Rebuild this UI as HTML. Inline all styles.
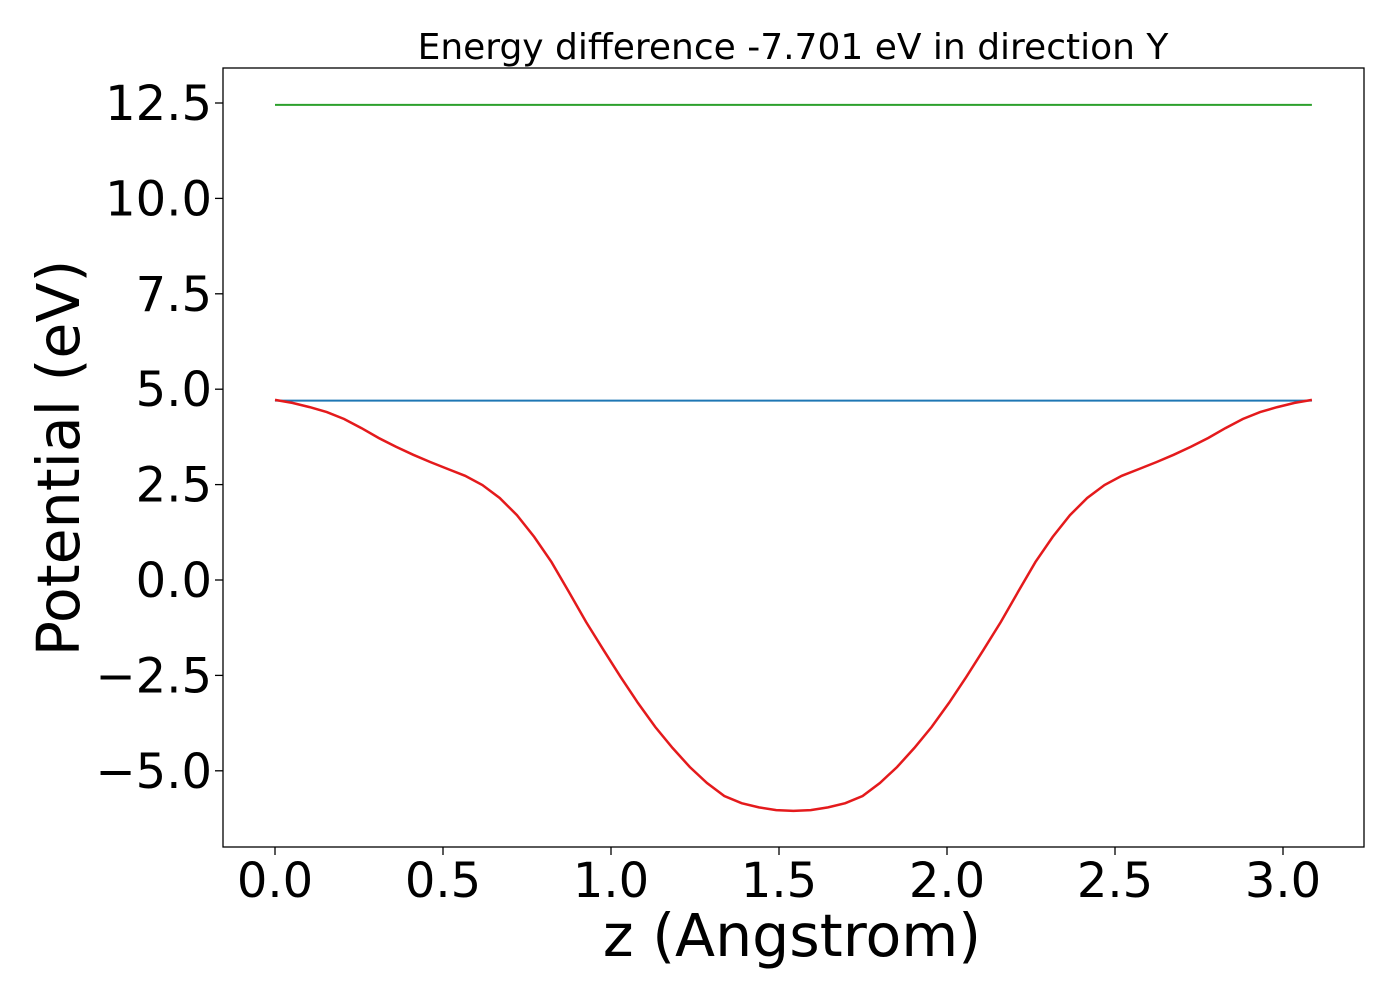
<!DOCTYPE html>
<html><head><meta charset="utf-8"><style>
body{margin:0;background:#fff;}
svg{display:block;font-family:"DejaVu Sans","Liberation Sans",sans-serif;}
</style></head><body>
<svg id="chart" width="1400" height="1000">
</svg>
<script>
const xTicks=[0.0,0.5,1.0,1.5,2.0,2.5,3.0];
const xTickLabels=["0.0","0.5","1.0","1.5","2.0","2.5","3.0"];
const yTicks=[-5,-2.5,0,2.5,5,7.5,10,12.5];
const yTickLabels=["\u22125.0","\u22122.5","0.0","2.5","5.0","7.5","10.0","12.5"];
const zMax=3.086;
const leftHalf=[4.72,4.64,4.53,4.40,4.22,3.98,3.72,3.49,3.28,3.09,2.91,2.73,2.49,2.15,1.70,1.13,0.47,-0.31,-1.10,-1.83,-2.54,-3.22,-3.85,-4.40,-4.90,-5.32,-5.66,-5.85,-5.96,-6.03,-6.05];
const potential=leftHalf.concat(leftHalf.slice(0,30).reverse());
const blueLevel=4.70;
const greenLevel=12.45;

const svg=document.getElementById('chart');
const NS='http://www.w3.org/2000/svg';
const L=223,R=1364,T=68,B=847;
function xs(v){return 275+v*336;}
function ys(v){return 580-v*38.16;}
function mk(tag,attrs){const e=document.createElementNS(NS,tag);for(const k in attrs)e.setAttribute(k,attrs[k]);svg.appendChild(e);return e;}

const frame=mk('rect',{x:L,y:T,width:R-L,height:B-T,fill:'none',stroke:'#000','stroke-width':1.3});



xTicks.forEach((v,i)=>{
  const t=mk('line',{x1:xs(v),x2:xs(v),y1:B,y2:B+8,stroke:'#000','stroke-width':1.3});
  
  
  const tx=mk('text',{x:xs(v),y:897,'font-size':48,'text-anchor':'middle'});
  tx.textContent=xTickLabels[i];
  
  
});
yTicks.forEach((v,i)=>{
  const t=mk('line',{x1:L-8,x2:L,y1:ys(v),y2:ys(v),stroke:'#000','stroke-width':1.3});
  
  
  const tx=mk('text',{x:212,y:ys(v)+17,'font-size':48,'text-anchor':'end'});
  tx.textContent=yTickLabels[i];
  
  
});

const g=mk('line',{x1:xs(0),x2:xs(zMax),y1:ys(greenLevel),y2:ys(greenLevel),stroke:'#2ca02c','stroke-width':2});


const b=mk('line',{x1:xs(0),x2:xs(zMax),y1:ys(blueLevel),y2:ys(blueLevel),stroke:'#1f77b4','stroke-width':2});



const n=potential.length;
const pts=potential.map((v,i)=>xs(i*zMax/(n-1)).toFixed(1)+','+ys(v).toFixed(1)).join(' ');
const red=mk('polyline',{points:pts,fill:'none',stroke:'#e41a1c','stroke-width':2.5});



const title=mk('text',{x:793,y:59,'font-size':36,'text-anchor':'middle'});
title.textContent='Energy difference -7.701 eV in direction Y';


const xl=mk('text',{x:792,y:956,'font-size':58.5,'text-anchor':'middle'});
xl.textContent='z (Angstrom)';


const yl=mk('text',{x:0,y:0,'font-size':58.5,'text-anchor':'middle',transform:'translate(79,458) rotate(-90)'});
yl.textContent='Potential (eV)';


</script>
</body></html>
